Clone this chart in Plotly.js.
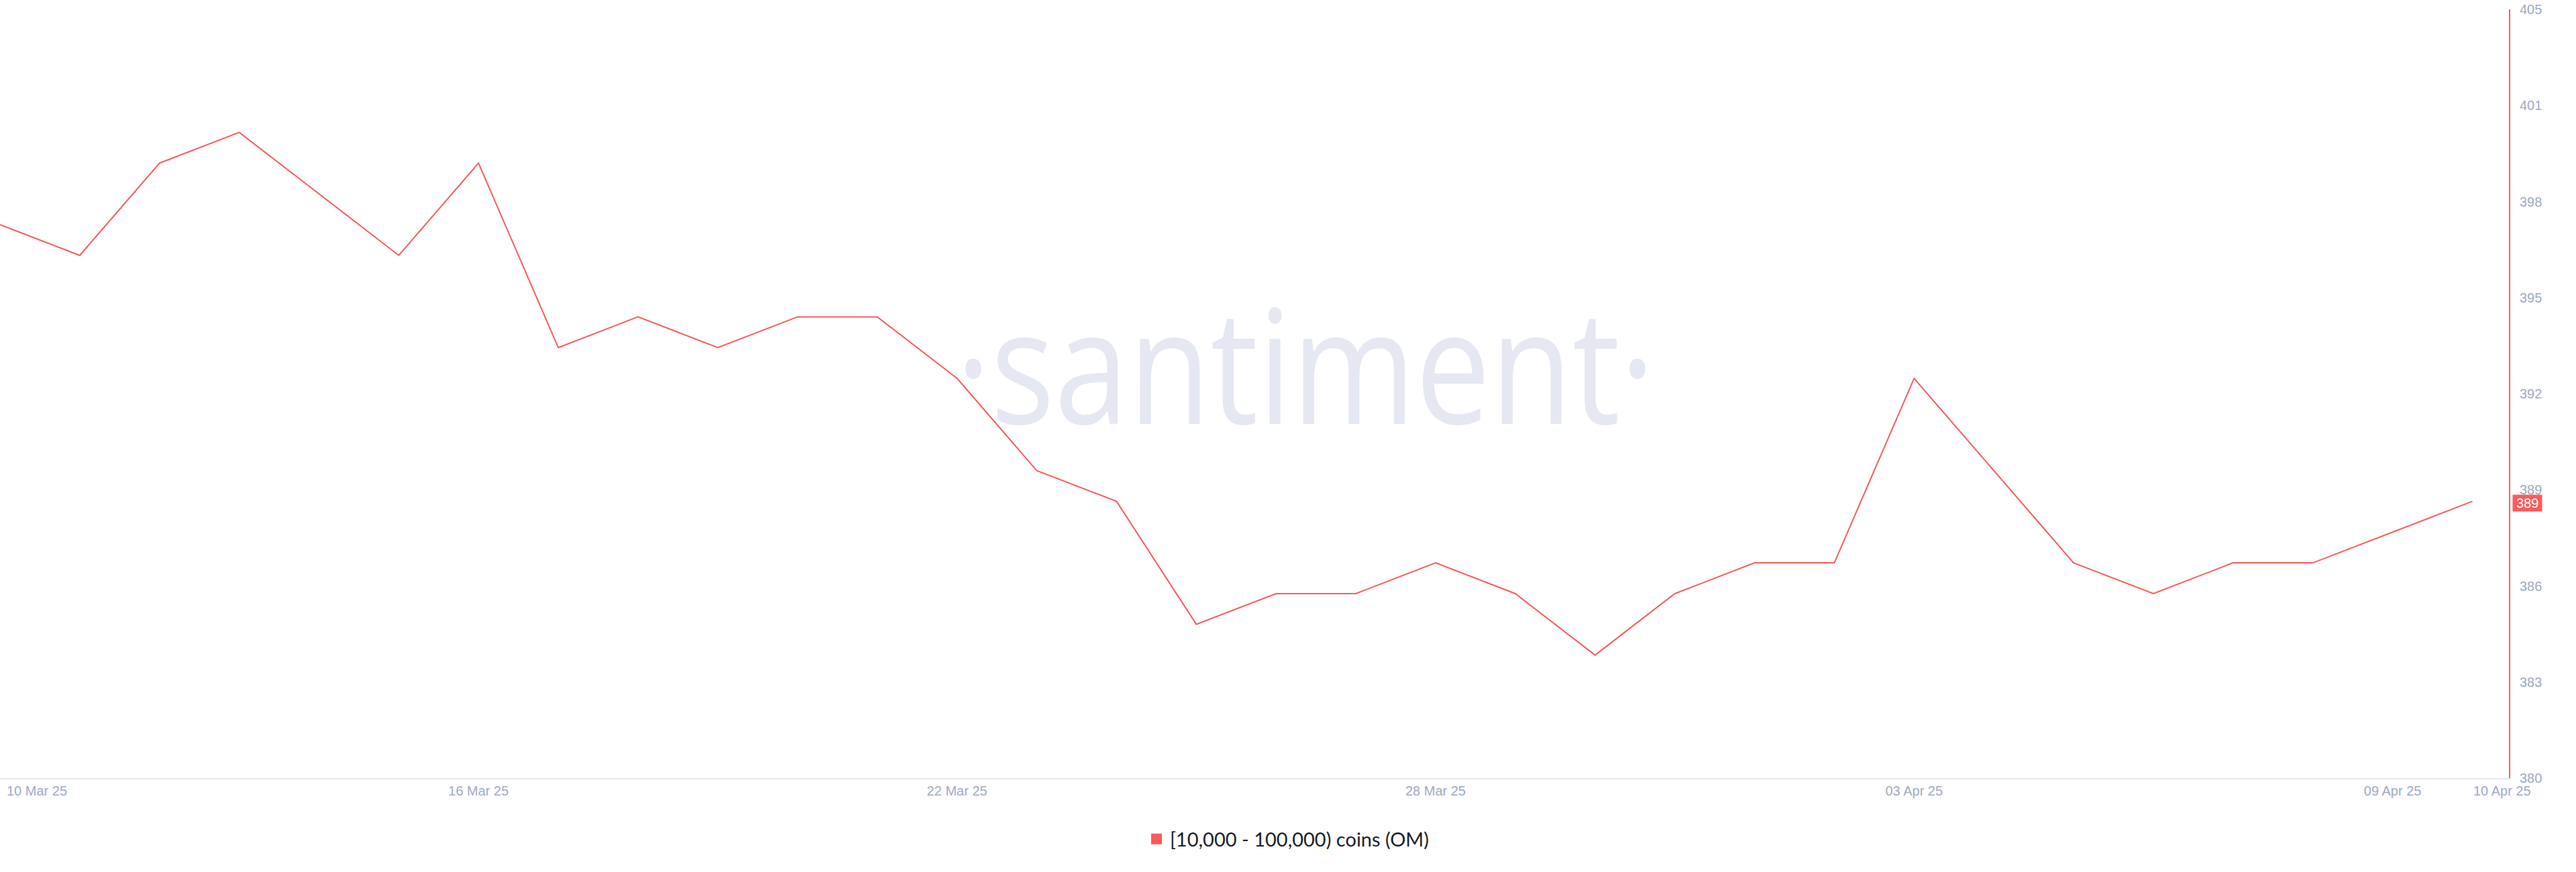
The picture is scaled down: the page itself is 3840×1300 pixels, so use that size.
<!DOCTYPE html>
<html>
<head>
<meta charset="utf-8">
<script src="https://cdn.plot.ly/plotly-3.0.1.min.js"></script>
<style>html,body{margin:0;padding:0;background:#fff;}#chart{width:3840px;height:1300px;}</style>
</head>
<body>
<div id="chart"></div>
<script>
const dates = ['2025-03-10','2025-03-11','2025-03-12','2025-03-13','2025-03-14','2025-03-15','2025-03-16','2025-03-17','2025-03-18','2025-03-19','2025-03-20','2025-03-21','2025-03-22','2025-03-23','2025-03-24','2025-03-25','2025-03-26','2025-03-27','2025-03-28','2025-03-29','2025-03-30','2025-03-31','2025-04-01','2025-04-02','2025-04-03','2025-04-04','2025-04-05','2025-04-06','2025-04-07','2025-04-08','2025-04-09','2025-04-10'];
const holders = [398,397,400,401,399,397,400,394,395,394,395,395,393,390,389,385,386,386,387,386,384,386,387,387,393,390,387,386,387,387,388,389];
const seriesName = '[10,000 - 100,000) coins (OM)';
const xTickVals = ['2025-03-16','2025-03-22','2025-03-28','2025-04-03','2025-04-09'];
const xTickText = ['16 Mar 25','22 Mar 25','28 Mar 25','03 Apr 25','09 Apr 25'];
const xEdgeLabels = ['10 Mar 25','10 Apr 25'];
const yTickVals = [380,383.125,386.25,389.375,392.5,395.625,398.75,401.875,405];
const yTickText = ['380','383','386','389','392','395','398','401','405'];
const watermark = '·santiment·';
const lastValue = holders[holders.length-1];

const RED = '#ff5a5a';
const TICK = '#a0aac6';

const traces = [
  {x: dates, y: holders, type:'scatter', mode:'lines', line:{color:RED, width:2}, showlegend:false, hoverinfo:'x+y'},
  {x:[null], y:[null], type:'scatter', mode:'markers', name:seriesName, marker:{symbol:'square', size:16, color:RED}, showlegend:true}
];

const layout = {
  width:3840, height:1300,
  margin:{l:0, r:100, t:14, b:140},
  paper_bgcolor:'#fff', plot_bgcolor:'#fff',
  font:{family:'"Liberation Sans", Arial, sans-serif', size:20, color:TICK},
  xaxis:{type:'date', range:['2025-03-10','2025-04-10 11:00'], tickvals:xTickVals, ticktext:xTickText,
         showgrid:false, zeroline:false, showline:true, linecolor:'#e3e7ef', linewidth:2, ticks:'',
         tickfont:{size:20, color:TICK}, ticklabelstandoff:0},
  yaxis:{side:'right', range:[380,405], tickvals:yTickVals, ticktext:yTickText, showgrid:false, zeroline:false,
         showline:true, linecolor:RED, linewidth:2, ticks:'', tickfont:{size:20, color:TICK}, ticklabelstandoff:10},
  showlegend:true,
  legend:{orientation:'h', xref:'container', x:0.5, xanchor:'center', yref:'container', y:0.0377, yanchor:'middle',
          font:{family:'Lato, "Open Sans", sans-serif', size:29, color:'#1b1f2b'}, itemwidth:30},
  shapes:[
    {type:'rect', xref:'paper', yref:'paper', x0:0.3703, x1:0.6703, y0:0.387, y1:0.667, layer:'below',
     line:{width:0}, fillcolor:'rgba(0,0,0,0)',
     label:{text:watermark, textposition:'middle center',
            font:{family:'"Open Sans", sans-serif', size:237, color:'#e5e8f2'}}}
  ],
  annotations:[
    {text:xEdgeLabels[0], xref:'paper', yref:'paper', x:0, y:0, xanchor:'left', yanchor:'top', xshift:8, yshift:-6, showarrow:false,
     font:{size:20, color:TICK}},
    {text:xEdgeLabels[1], xref:'paper', yref:'paper', x:0.9973, y:0, xanchor:'center', yanchor:'top', yshift:-6, showarrow:false,
     font:{size:20, color:TICK}},
    {text:'\u2009' + String(lastValue) + '\u2009', xref:'paper', yref:'y', x:1, y:lastValue, xanchor:'left', yanchor:'middle', xshift:5, yshift:-3, showarrow:false,
     bgcolor:RED, borderpad:1, font:{size:20, color:'#ffffff'}}
  ]
};
Plotly.newPlot('chart', traces, layout, {displayModeBar:false, staticPlot:true}).then(function(){
  document.querySelectorAll('#chart .shapelayer text, #chart text.shape-label').forEach(function(t){
    t.style.transformBox = 'fill-box';
    t.style.transformOrigin = 'center';
    t.style.transform = 'scaleX(0.84)';
  });
});
</script>
</body>
</html>
